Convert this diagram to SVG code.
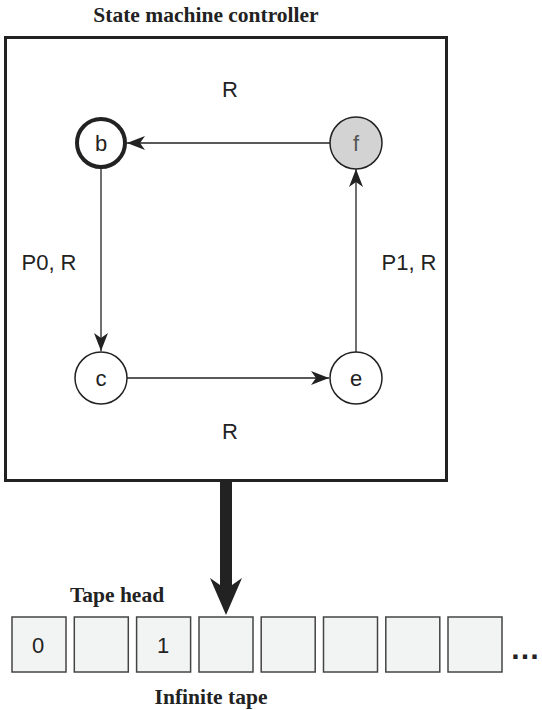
<svg xmlns="http://www.w3.org/2000/svg" width="542" height="710" viewBox="0 0 542 710">
<style>
.title{font-family:"Liberation Serif","Times New Roman",serif;font-weight:bold;font-size:21.5px;fill:#222}
.lbl{font-family:"Liberation Sans",Arial,sans-serif;font-size:22px;fill:#222}
.node{fill:#fff;stroke:#222;stroke-width:1.5}
.edge{stroke:#222;stroke-width:1.3;fill:none}
.cell{fill:#f2f4f3;stroke:#444;stroke-width:1.5}
</style>
<defs>
<marker id="ah" markerWidth="20" markerHeight="14" refX="18" refY="7" orient="auto" markerUnits="userSpaceOnUse">
<path d="M0,0 L18,7 L0,14 L5,7 Z" fill="#222"/>
</marker>
</defs>
<rect width="542" height="710" fill="#fff"/>
<text class="title" x="206" y="22" text-anchor="middle">State machine controller</text>
<g id="controller">
<rect x="5.5" y="37.5" width="441" height="443" fill="none" stroke="#222" stroke-width="3"/>
</g>
<g id="connectors">
<line class="edge" x1="330" y1="143" x2="127" y2="143" marker-end="url(#ah)"/>
<line class="edge" x1="101" y1="169" x2="101" y2="351" marker-end="url(#ah)"/>
<line class="edge" x1="127" y1="378" x2="329" y2="378" marker-end="url(#ah)"/>
<line class="edge" x1="356" y1="352" x2="356" y2="169" marker-end="url(#ah)"/>
<path d="M220,482 L232,482 L232,585 L242,578 L226,615 L210,578 L220,585 Z" fill="#222"/>
</g>
<g id="labels">
<text class="lbl" x="230" y="97" text-anchor="middle">R</text>
<text class="lbl" x="49" y="270" text-anchor="middle">P0, R</text>
<text class="lbl" x="409" y="270" text-anchor="middle">P1, R</text>
<text class="lbl" x="230" y="439" text-anchor="middle">R</text>
</g>
<g id="node-b"><circle cx="101" cy="143" r="24" fill="#fff" stroke="#222" stroke-width="4"/><text class="lbl" x="101" y="151" text-anchor="middle">b</text></g>
<g id="node-f"><circle class="node" cx="356" cy="143" r="26" style="fill:#d3d3d3"/><text class="lbl" x="356" y="151" text-anchor="middle" style="fill:#555">f</text></g>
<g id="node-c"><circle class="node" cx="101" cy="378" r="26"/><text class="lbl" x="101" y="386" text-anchor="middle">c</text></g>
<g id="node-e"><circle class="node" cx="356" cy="378" r="26"/><text class="lbl" x="356" y="386" text-anchor="middle">e</text></g>
<text class="title" x="117" y="602" text-anchor="middle">Tape head</text>
<g id="tape">
<rect class="cell" x="12" y="617" width="54" height="55"/>
<rect class="cell" x="74.3" y="617" width="54" height="55"/>
<rect class="cell" x="136.6" y="617" width="54" height="55"/>
<rect class="cell" x="199" y="617" width="54" height="55"/>
<rect class="cell" x="261.2" y="617" width="54" height="55"/>
<rect class="cell" x="323.5" y="617" width="54" height="55"/>
<rect class="cell" x="385.8" y="617" width="54" height="55"/>
<rect class="cell" x="448" y="617" width="54" height="55"/>
<text class="lbl" x="38" y="653" text-anchor="middle">0</text>
<text class="lbl" x="163" y="653" text-anchor="middle">1</text>
<text x="510" y="659" style="font-family:'Liberation Sans',Arial,sans-serif;font-size:30px;font-weight:bold;fill:#222">…</text>
</g>
<text class="title" x="211" y="704" text-anchor="middle">Infinite tape</text>
</svg>
